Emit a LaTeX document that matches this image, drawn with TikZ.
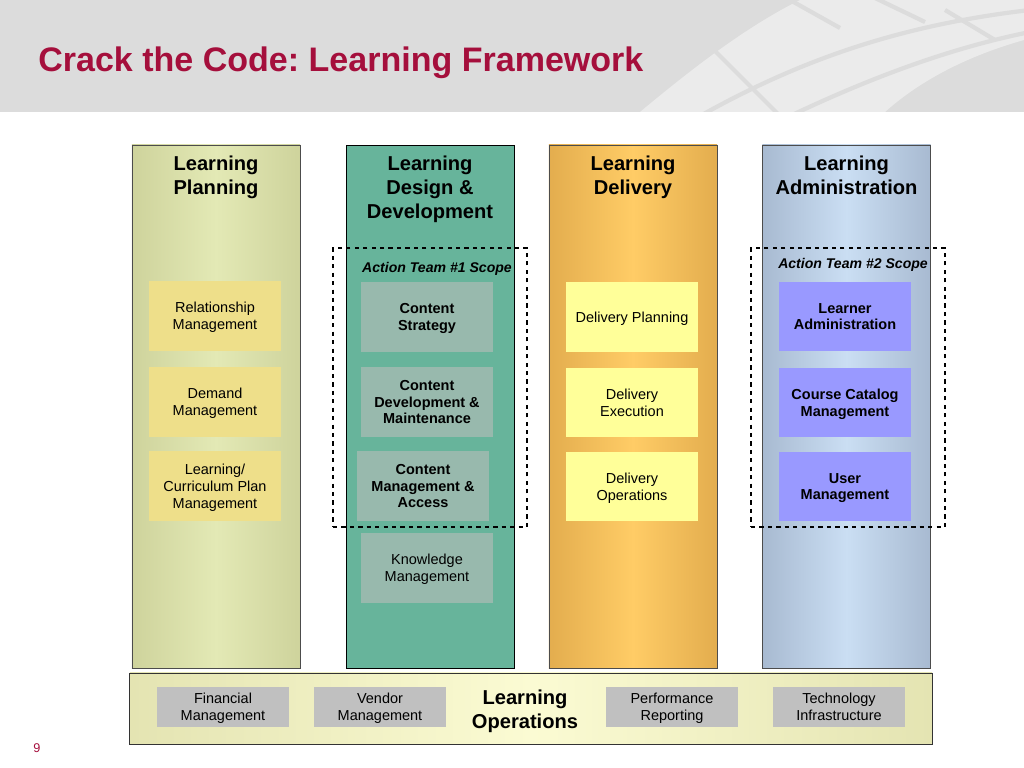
\documentclass[tikz,border=0pt]{standalone}
\usepackage{fontspec}
\setmainfont{Liberation Sans}
\usetikzlibrary{positioning}
\definecolor{headgray}{HTML}{DCDCDC}
\definecolor{headlight}{HTML}{EBEBEB}
\definecolor{titlered}{HTML}{A50F3C}
\definecolor{planedge}{HTML}{CED39C}
\definecolor{planmid}{HTML}{E3E9B5}
\definecolor{planbox}{HTML}{EEDF8A}
\definecolor{designfill}{HTML}{67B49B}
\definecolor{designbox}{HTML}{98B9AD}
\definecolor{deledge}{HTML}{E3AD4E}
\definecolor{delmid}{HTML}{FFCC66}
\definecolor{delbox}{HTML}{FFFF99}
\definecolor{adminedge}{HTML}{A8BAD1}
\definecolor{adminmid}{HTML}{CADEF3}
\definecolor{adminbox}{HTML}{9999FF}
\definecolor{opsedge}{HTML}{E4E4B2}
\definecolor{opsmid}{HTML}{FBFBD3}
\definecolor{opsbox}{HTML}{C0C0C0}
\tikzstyle{column} = [rectangle, draw=black!70, minimum width=4.2cm, minimum height=13.075cm, inner sep=0pt]
\tikzstyle{coltitle} = [anchor=north, align=center, inner sep=0pt, font=\fontsize{14.3}{17}\selectfont\bfseries]
\tikzstyle{func} = [rectangle, minimum width=3.3cm, minimum height=1.725cm, align=center, inner sep=0pt, text depth=0pt, font=\fontsize{10.3}{12}\selectfont]
\tikzstyle{opsitem} = [rectangle, fill=opsbox, minimum width=3.3cm, minimum height=1cm, align=center, inner sep=0pt, text depth=0pt, font=\fontsize{10.3}{12}\selectfont]
\tikzstyle{teambox} = [rectangle, draw=black, dashed, thick, minimum width=4.85cm, minimum height=6.975cm, inner sep=0pt]
\tikzstyle{teamlabel} = [font=\fontsize{10}{12}\selectfont\bfseries\itshape]
\tikzstyle{stripe} = [headgray, line width=3pt]

\begin{document}
\begin{tikzpicture}[x=0.025cm, y=-0.025cm]
    \useasboundingbox (0,0) rectangle (1024,768);
    \fill[headgray] (0,0) rectangle (1024,112);
    \begin{scope}
    \clip (0,0) rectangle (1024,112);
    \fill[headlight] (640,112) .. controls (700,62) and (750,25) .. (800,0) -- (1024,0) -- (1024,40) .. controls (960,58) and (915,85) .. (885,112) -- cycle;
    \draw[stripe] (700,116) .. controls (800,60) and (900,25) .. (1030,10);
    \draw[stripe] (790,116) .. controls (870,78) and (950,48) .. (1030,32);
    \draw[stripe] (706,42) -- (778,114);
    \draw[stripe] (790,0) -- (840,28);
    \draw[stripe] (875,-2) -- (925,22);
    \draw[stripe] (945,10) -- (995,40);
    \end{scope}
    \node (title) [anchor=base west, text=titlered, font=\fontsize{24.2}{29}\selectfont\bfseries, inner sep=0pt] at (38,72) {\frenchspacing Crack the Code: Learning Framework};

    \node (c1) [column, left color=planedge, right color=planedge, middle color=planmid] at (216,406.5) {};
    \node (c2) [column, draw=black, fill=designfill] at (430,406.5) {};
    \node (c3) [column, left color=deledge, right color=deledge, middle color=delmid] at (633,406.5) {};
    \node (c4) [column, left color=adminedge, right color=adminedge, middle color=adminmid] at (846.5,406.5) {};

    \node (t1) [coltitle, below=0.28cm of c1.north] {Learning\\Planning};
    \node (t2) [coltitle, below=0.28cm of c2.north] {Learning\\Design \&\\Development};
    \node (t3) [coltitle, below=0.28cm of c3.north] {Learning\\Delivery};
    \node (t4) [coltitle, below=0.28cm of c4.north] {Learning\\Administration};

    \node (s1) [teambox] at (430,387.5) {};
    \node (s2) [teambox] at (848,387.5) {};
    \node (l1) [teamlabel] at (437,269) {Action Team \#1 Scope};
    \node (l2) [teamlabel] at (853,265) {Action Team \#2 Scope};

    \node (p1) [func, fill=planbox] at (215,316) {Relationship\\Management};
    \node (p2) [func, fill=planbox] at (215,402) {Demand\\Management};
    \node (p3) [func, fill=planbox] at (215,486) {Learning/\\Curriculum Plan\\Management};

    \node (d1) [func, fill=designbox, font=\fontsize{10.3}{12}\selectfont\bfseries] at (427,317) {Content\\Strategy};
    \node (d2) [func, fill=designbox, font=\fontsize{10.3}{12}\selectfont\bfseries] at (427,402) {Content\\Development \&\\Maintenance};
    \node (d3) [func, fill=designbox, font=\fontsize{10.3}{12}\selectfont\bfseries] at (423,486) {Content\\Management \&\\Access};
    \node (d4) [func, fill=designbox] at (427,568) {Knowledge\\Management};

    \node (e1) [func, fill=delbox] at (632,317) {Delivery Planning};
    \node (e2) [func, fill=delbox] at (632,402.5) {Delivery\\Execution};
    \node (e3) [func, fill=delbox] at (632,486.5) {Delivery\\Operations};

    \node (a1) [func, fill=adminbox, font=\fontsize{10.3}{12}\selectfont\bfseries] at (845,316.5) {Learner\\Administration};
    \node (a2) [func, fill=adminbox, font=\fontsize{10.3}{12}\selectfont\bfseries] at (845,402.5) {Course Catalog\\Management};
    \node (a3) [func, fill=adminbox, font=\fontsize{10.3}{12}\selectfont\bfseries] at (845,486.5) {User\\Management};

    \node (ops) [rectangle, draw=black!80, semithick, left color=opsedge, right color=opsedge, middle color=opsmid, minimum width=20.05cm, minimum height=1.775cm, inner sep=0pt] at (531,708.5) {};
    \node (o1) [opsitem] at (223,707) {Financial\\Management};
    \node (o2) [opsitem] at (380,707) {Vendor\\Management};
    \node (o3) [align=center, inner sep=0pt, text depth=0pt, font=\fontsize{14.3}{17}\selectfont\bfseries] at (525,709) {Learning\\Operations};
    \node (o4) [opsitem] at (672,707) {Performance\\Reporting};
    \node (o5) [opsitem] at (839,707) {Technology\\Infrastructure};

    \node (pg) [text=titlered, font=\fontsize{9}{11}\selectfont] at (37,748) {9};
  \end{tikzpicture}
\end{document}
